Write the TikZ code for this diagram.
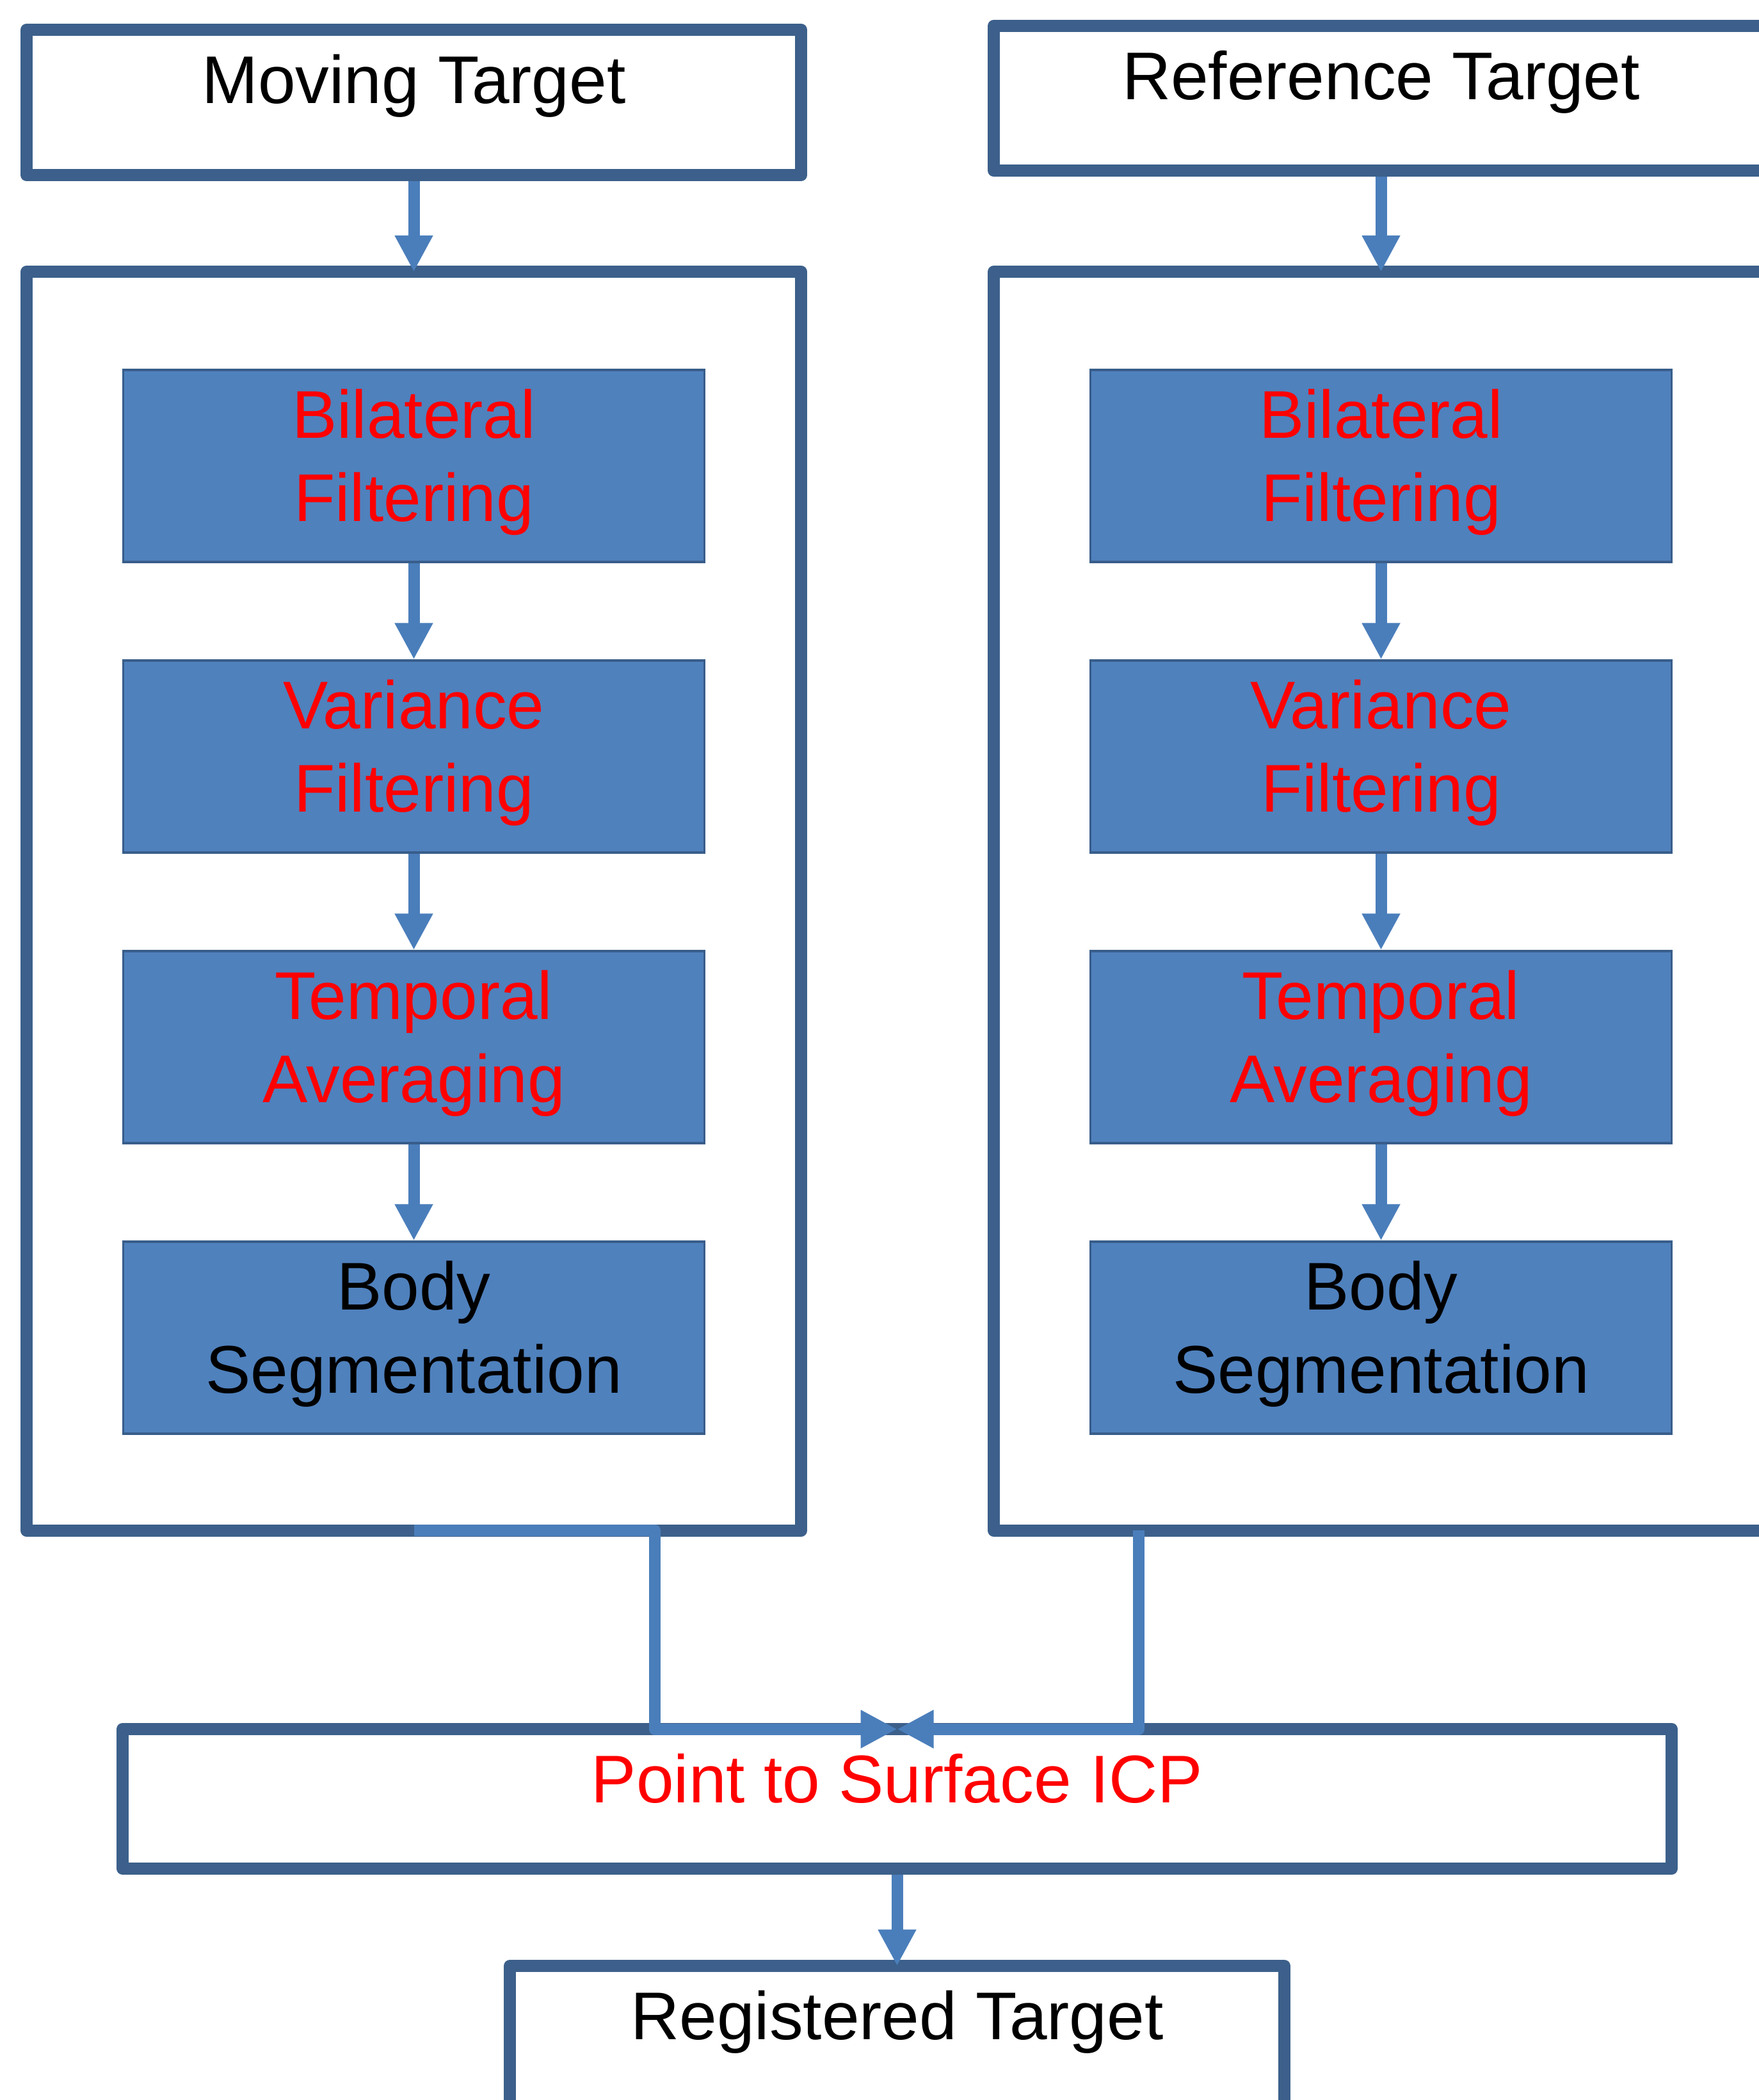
\documentclass[tikz,border=0pt]{standalone}
\usepackage{fontspec}
\setmainfont{Liberation Sans}
\usetikzlibrary{arrows.meta}

\definecolor{frameblue}{RGB}{60,96,139}
\definecolor{fillblue}{RGB}{79,129,189}
\definecolor{edgeblue}{RGB}{56,93,138}
\definecolor{linkblue}{RGB}{74,126,187}

\begin{document}
\begin{tikzpicture}[
    frame/.style={draw=frameblue, line width=0.19cm, line join=round, minimum width=12.10cm, inner sep=0pt},
    stage/.style={draw=edgeblue, fill=fillblue, line width=0.035cm, minimum width=9.08cm, minimum height=3cm,
      align=center, text=red, text depth=0.34cm, font=\fontsize{30}{37}\selectfont},
    lbl/.style={font=\fontsize{30}{37}\selectfont, inner sep=0pt, anchor=base},
    flow/.style={draw=linkblue, line width=0.18cm, -{Triangle[width=0.56cm,length=0.57cm]}},
    merge/.style={draw=linkblue, line width=0.18cm, line join=round, -{Triangle[width=0.56cm,length=0.57cm]}}
  ]
    % page
    \useasboundingbox (0,0) rectangle (27.48,-32.81);
    \clip (0,0) rectangle (27.48,-32.81);

    % input boxes
    \node[frame, minimum height=2.27cm] (moving) at (6.465,-1.60) {};
    \node[frame, minimum height=2.26cm] (reference) at (21.575,-1.535) {};
    \node[lbl] (movingtext) at ([yshift=-1.24cm]moving.north) {Moving Target};
    \node[lbl] (referencetext) at ([yshift=-1.24cm]reference.north) {Reference Target};

    % preprocessing columns
    \foreach \side/\x in {l/6.465, r/21.575} {
      \node[frame, minimum height=19.665cm] (\side box) at (\x,-14.08) {};
      \node[stage] (\side1) at (\x,-7.28) {Bilateral\\Filtering};
      \node[stage] (\side2) at (\x,-11.82) {Variance\\Filtering};
      \node[stage] (\side3) at (\x,-16.36) {Temporal\\Averaging};
      \node[stage, text=black] (\side4) at (\x,-20.90) {Body\\Segmentation};

      \draw[flow] (\side1.south) -- (\side2.north);
      \draw[flow] (\side2.south) -- (\side3.north);
      \draw[flow] (\side3.south) -- (\side4.north);
    }

    \draw[flow] (moving.south) -- ([yshift=-0.095cm]lbox.north);
    \draw[flow] (reference.south) -- ([yshift=-0.095cm]rbox.north);

    % registration
    \node[frame, minimum width=24.20cm, minimum height=2.18cm] (icp) at (14.015,-28.105) {};
    \node[lbl, text=red] (icptext) at ([yshift=-1.24cm]icp.north) {Point to Surface ICP};
    \node[frame, minimum height=2.27cm] (registered) at (14.015,-31.85) {};
    \node[lbl] (registeredtext) at ([yshift=-1.24cm]registered.north) {Registered Target};

    % connectors
    \coordinate (icptop) at ([yshift=-0.095cm]icp.north);
    \coordinate (lbot) at ([yshift=0.095cm]lbox.south);
    \coordinate (rbot) at ([xshift=-3.79cm,yshift=0.095cm]rbox.south);
    \draw[merge] (lbot) -- ++(3.765,0) |- (icptop);
    \draw[merge] (rbot) |- (icptop);
    \draw[flow] (icp.south) -- ([yshift=-0.095cm]registered.north);
\end{tikzpicture}
\end{document}
